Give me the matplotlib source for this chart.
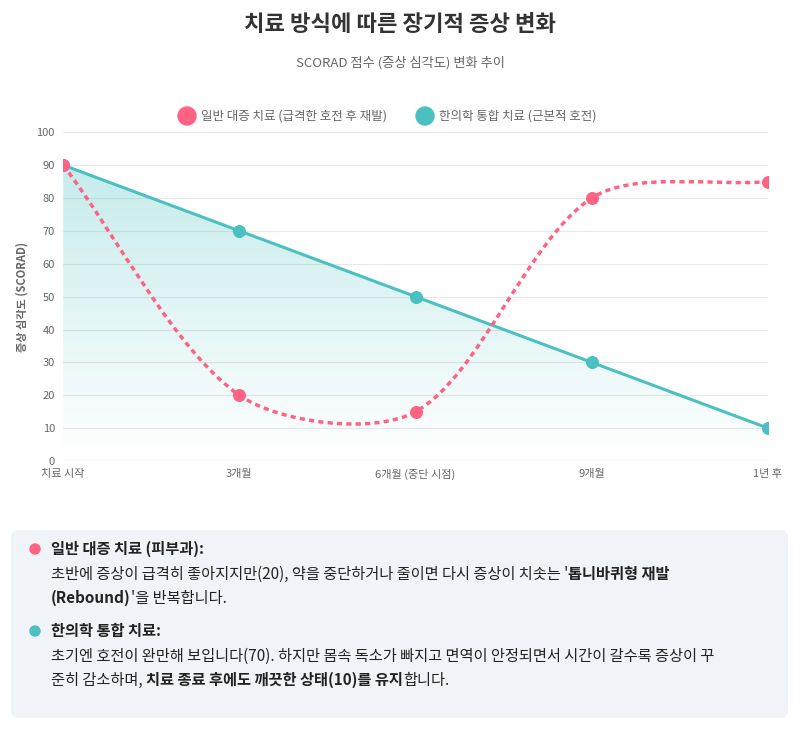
import matplotlib
matplotlib.use("Agg")
import matplotlib.pyplot as plt
import numpy as np
from matplotlib.path import Path
from matplotlib.patches import PathPatch, FancyBboxPatch

plt.rcParams['font.family'] = ['Noto Sans CJK KR', 'DejaVu Sans']

labels = ['치료 시작', '3개월', '6개월 (중단 시점)', '9개월', '1년 후']
general = [90, 20, 15, 80, 85]
integrative = [90, 70, 50, 30, 10]
RED = '#ff6384'
TEAL = '#4bc0c0'

fig = plt.figure(figsize=(8, 7.29), dpi=100)
ax = fig.add_axes([0.079, 0.3676, 0.881, 0.451])
x = np.arange(len(labels))
ax.set_xlim(0, 4); ax.set_ylim(0, 100)

def bezier_path(xs, ys, sx=176.0, sy=3.29, t=0.3):
    P = np.column_stack([np.array(xs)*sx, np.array(ys, float)*sy])
    n = len(P)
    cps = []
    for i in range(n):
        prev = P[max(i-1, 0)]; cur = P[i]; nxt = P[min(i+1, n-1)]
        d01 = np.hypot(*(cur-prev)); d12 = np.hypot(*(nxt-cur))
        s = d01 + d12
        fa = t*d01/s if s else 0; fb = t*d12/s if s else 0
        cps.append((cur - fa*(nxt-prev), cur + fb*(nxt-prev)))
    verts = [P[0]]; codes = [Path.MOVETO]
    for i in range(n-1):
        verts += [cps[i][1], cps[i+1][0], P[i+1]]
        codes += [Path.CURVE4]*3
    V = np.array(verts); V[:, 0] /= sx; V[:, 1] /= sy
    return Path(V, codes)

grad = np.linspace(0, 1, 256).reshape(-1, 1)
from matplotlib.colors import LinearSegmentedColormap
cmap = LinearSegmentedColormap.from_list('g', [(0.294, 0.753, 0.753, 0.0), (0.294, 0.753, 0.753, 0.35)])
im = ax.imshow(grad, extent=[0, 4, 0, 100], origin='lower', aspect='auto', cmap=cmap, zorder=1)
poly = np.column_stack([np.r_[x, 4, 0], np.r_[integrative, 0, 0]])
clip = plt.Polygon(poly, transform=ax.transData, facecolor='none', edgecolor='none')
ax.add_patch(clip); im.set_clip_path(clip)

ax.plot(x, integrative, color=TEAL, lw=2.2, zorder=3)
ax.scatter(x, integrative, s=70, color=TEAL, zorder=4)
ax.add_patch(PathPatch(bezier_path(x, general), fill=False, edgecolor=RED, lw=2.5,
                       linestyle=(0, (1.5, 1.2)), zorder=3))
ax.scatter(x, general, s=70, color=RED, zorder=4)

ax.set_xticks(x, labels)
ax.set_yticks(range(0, 101, 10))
ax.tick_params(labelsize=8, colors='#666666', length=0, pad=6)
ax.grid(True, axis='y', color='#e8e8e8', lw=0.8)
ax.set_axisbelow(True)
for s in ax.spines.values():
    s.set_visible(False)
ax.axhline(0, color='#dddddd', lw=0.8)
ax.set_ylabel('증상 심각도 (SCORAD)', fontsize=8, color='#666666', fontweight='bold', labelpad=6)
ax.set_facecolor('none')

fig.text(0.5, 0.966, '치료 방식에 따른 장기적 증상 변화', ha='center', va='center', fontsize=16, fontweight='bold', color='#333333')
fig.text(0.5, 0.914, 'SCORAD 점수 (증상 심각도) 변화 추이', ha='center', va='center', fontsize=9.5, color='#666666')

fig.patches.append(plt.Circle((187, 729-116), 9, transform=None, color=RED))
fig.text(201/800, 1-116/729, '일반 대증 치료 (급격한 호전 후 재발)', va='center', fontsize=9, color='#666666')
fig.patches.append(plt.Circle((425, 729-116), 9, transform=None, color=TEAL))
fig.text(439/800, 1-116/729, '한의학 통합 치료 (근본적 호전)', va='center', fontsize=9, color='#666666')

box = FancyBboxPatch((11/800, 11/729), 777/800, 188/729, boxstyle='round,pad=0,rounding_size=0.01',
                     transform=fig.transFigure, facecolor='#f0f3f8', edgecolor='none')
fig.patches.append(box)

fig.canvas.draw()
r = fig.canvas.get_renderer()
def rich(xpx, ypx, parts, size=11):
    cx = xpx
    for txt, bold in parts:
        t = fig.text(cx/800, 1-ypx/729, txt, va='center', fontsize=size, color='#222222',
                     fontweight='bold' if bold else 'normal')
        cx = t.get_window_extent(r).x1
fig.patches.append(plt.Circle((35, 729-549), 5, transform=None, color=RED))
rich(51, 549, [('일반 대증 치료 (피부과):', True)])
rich(51, 574, [('초반에 증상이 급격히 좋아지지만(20), 약을 중단하거나 줄이면 다시 증상이 치솟는 \'', False), ('톱니바퀴형 재발', True)])
rich(51, 598, [('(Rebound)', True), ('\'을 반복합니다.', False)])
fig.patches.append(plt.Circle((35, 729-631), 5, transform=None, color=TEAL))
rich(51, 631, [('한의학 통합 치료:', True)])
rich(51, 656, [('초기엔 호전이 완만해 보입니다(70). 하지만 몸속 독소가 빠지고 면역이 안정되면서 시간이 갈수록 증상이 꾸', False)])
rich(51, 680, [('준히 감소하며, ', False), ('치료 종료 후에도 깨끗한 상태(10)를 유지', True), ('합니다.', False)])

fig.savefig('out.png', dpi=100)
